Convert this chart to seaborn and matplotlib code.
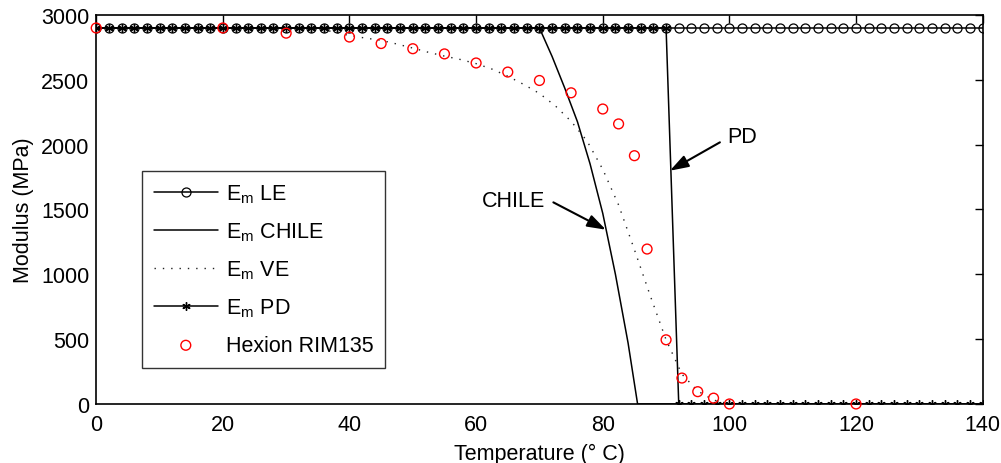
import numpy as np
import pandas as pd
import matplotlib
matplotlib.use('Agg')
import matplotlib.pyplot as plt
import seaborn as sns

# 데이터
temps = np.arange(0, 141, 2)
le_modulus = [2900] * len(temps)
pd_modulus = [2900] * 46 + [0] * 25

chile_temps = [0, 70, 72, 74, 76, 78, 80, 82, 84, 85.5, 140]
chile_modulus = [2900, 2900, 2680, 2436, 2177, 1851, 1470, 1000, 470, 0, 0]

ve_temps = [0, 35, 37.5, 40, 42.5, 45, 47.5, 50, 52.5, 55, 57.5, 60, 62.5, 65,
            67.5, 70, 72.5, 75, 77.5, 80, 82.5, 85, 87.5, 90, 92.5, 95, 97.5,
            100, 140]
ve_modulus = [2900, 2900, 2868, 2842, 2822, 2805, 2776, 2745, 2712, 2683, 2657,
              2625, 2583, 2528, 2465, 2395, 2300, 2180, 2030, 1810, 1535, 1190,
              835, 495, 230, 100, 30, 0, 0]

hexion_temps = [0, 20, 30, 40, 45, 50, 55, 60, 65, 70, 75, 80, 82.5, 85, 87,
                90, 92.5, 95, 97.5, 100, 120]
hexion_modulus = [2900, 2900, 2860, 2830, 2780, 2740, 2700, 2630, 2560, 2495,
                  2400, 2275, 2160, 1915, 1195, 495, 200, 95, 45, 0, 0]

df_le = pd.DataFrame({'T': temps, 'E': le_modulus})
df_pd = pd.DataFrame({'T': temps, 'E': pd_modulus})
df_chile = pd.DataFrame({'T': chile_temps, 'E': chile_modulus})
df_ve = pd.DataFrame({'T': ve_temps, 'E': ve_modulus})
df_hex = pd.DataFrame({'T': hexion_temps, 'E': hexion_modulus})

sns.set_style('white')
plt.rcParams['font.family'] = ['Liberation Sans', 'DejaVu Sans']
plt.rcParams['mathtext.fontset'] = 'custom'
plt.rcParams['mathtext.rm'] = 'Liberation Sans'
plt.rcParams['mathtext.it'] = 'Liberation Sans'
plt.rcParams['text.color'] = 'k'
plt.rcParams['axes.labelcolor'] = 'k'

fs = 15.5

fig = plt.figure(figsize=(10.01, 4.64), dpi=100)
ax = fig.add_axes([0.0961, 0.1272, 0.8856, 0.8383])

sns.lineplot(data=df_le, x='T', y='E', ax=ax, color='k', lw=1.1, marker='o',
             markersize=6.5, markerfacecolor='none', markeredgecolor='k',
             markeredgewidth=0.9, sort=False, estimator=None,
             label=r'E$_\mathregular{m}$ LE')
sns.lineplot(data=df_chile, x='T', y='E', ax=ax, color='k', lw=1.1,
             sort=False, estimator=None, label=r'E$_\mathregular{m}$ CHILE')
sns.lineplot(data=df_ve, x='T', y='E', ax=ax, color='#222222', lw=1.0,
             linestyle=(0, (1, 5)), sort=False, estimator=None,
             label=r'E$_\mathregular{m}$ VE')
sns.lineplot(data=df_pd, x='T', y='E', ax=ax, color='k', lw=1.1,
             marker=(6, 2, 0), markersize=6, markeredgecolor='k',
             markeredgewidth=1.0, sort=False, estimator=None,
             label=r'E$_\mathregular{m}$ PD')
sns.scatterplot(data=df_hex, x='T', y='E', ax=ax, marker='o', s=50,
                facecolor='none', edgecolor='red', linewidth=1.0,
                label='Hexion RIM135', zorder=5, clip_on=False)

# 화살표 주석
arrow = dict(arrowstyle='-|>,head_length=0.75,head_width=0.25', color='k',
             lw=1.5, shrinkA=0, shrinkB=0, mutation_scale=15)
ax.annotate('', xy=(80.5, 1344), xytext=(72.2, 1555), arrowprops=arrow)
ax.text(70.9, 1573, 'CHILE', fontsize=fs, ha='right', va='center', color='k')
ax.annotate('', xy=(90.6, 1799), xytext=(98.5, 2018), arrowprops=arrow)
ax.text(102.0, 2066, 'PD', fontsize=fs, ha='center', va='center', color='k')

ax.set_xlim(0, 140)
ax.set_ylim(0, 3000)
ax.set_xticks(range(0, 141, 20))
ax.set_yticks(range(0, 3001, 500))
ax.tick_params(direction='in', length=6, width=1, top=True, right=True,
               labelsize=fs, colors='k')
ax.tick_params(axis='x', pad=7)
ax.tick_params(axis='y', pad=5)
for s in ax.spines.values():
    s.set_color('k')
    s.set_linewidth(1.2)

ax.set_xlabel('Temperature (° C)', fontsize=fs, labelpad=6)
ax.set_ylabel('Modulus (MPa)', fontsize=fs, labelpad=5)

leg = ax.legend(loc='upper left', bbox_to_anchor=(0.0513, 0.5998),
                borderaxespad=0, fontsize=fs, frameon=True, fancybox=False,
                edgecolor='k', handlelength=3.0, handletextpad=0.35,
                labelspacing=0.72, borderpad=0.55, scatterpoints=1)
leg.get_frame().set_linewidth(1.0)
for t in leg.get_texts():
    t.set_color('k')

plt.savefig('out.png', dpi=100)
